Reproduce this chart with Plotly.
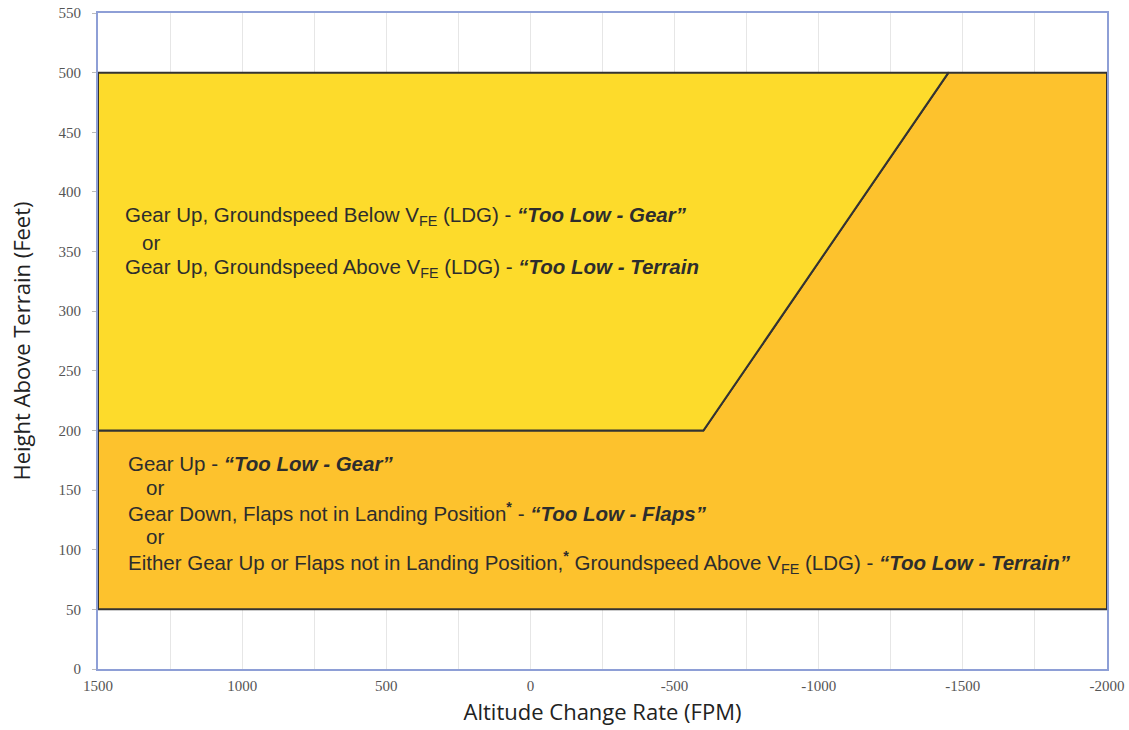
import plotly.graph_objects as go

# Envelope boundaries (Altitude change rate in FPM, height above terrain in feet)
upper_zone_rate = [1500, -600, -1450, 1500, 1500]
upper_zone_height = [200, 200, 500, 500, 200]

lower_zone_rate = [1500, -600, -1450, -2000, -2000, 1500, 1500]
lower_zone_height = [200, 200, 500, 500, 50, 50, 200]

x_ticks = [1500, 1000, 500, 0, -500, -1000, -1500, -2000]
x_tick_labels = ["1500", "1000", "500", "0", "-500", "-1000", "-1500", "-2000"]
y_ticks = [0, 50, 100, 150, 200, 250, 300, 350, 400, 450, 500, 550]

YELLOW = "#FDDB2B"
ORANGE = "#FDC22D"
EDGE = "#333333"
TXT = "#2d2d2d"

fig = go.Figure()
fig.add_trace(go.Scatter(x=lower_zone_rate, y=lower_zone_height, fill="toself",
                         fillcolor=ORANGE, mode="lines",
                         line=dict(color=EDGE, width=2), hoverinfo="skip",
                         showlegend=False))
fig.add_trace(go.Scatter(x=upper_zone_rate, y=upper_zone_height, fill="toself",
                         fillcolor=YELLOW, mode="lines",
                         line=dict(color=EDGE, width=2), hoverinfo="skip",
                         showlegend=False))

ann_font = dict(family="Liberation Sans, Arial, sans-serif", size=20.5, color=TXT)
STAR = "<sup><b>*</b></sup>"
lines = [
    (1413, 379.8, "Gear Up, Groundspeed Below V<sub>FE</sub> (LDG) - <b><i>“Too Low - Gear”</i></b>"),
    (1355, 358.0, "or"),
    (1413, 336.2, "Gear Up, Groundspeed Above V<sub>FE</sub> (LDG) - <b><i>“Too Low - Terrain</i></b>"),
    (1403, 171.9, "Gear Up - <b><i>“Too Low - Gear”</i></b>"),
    (1340, 151.8, "or"),
    (1403, 131.6, "Gear Down, Flaps not in Landing Position" + STAR + " - <b><i>“Too Low - Flaps”</i></b>"),
    (1340, 110.7, "or"),
    (1403, 88.9, "Either Gear Up or Flaps not in Landing Position," + STAR + " Groundspeed Above V<sub>FE</sub> (LDG) - <b><i>“Too Low - Terrain”</i></b>"),
]
for x, y, t in lines:
    fig.add_annotation(x=x, y=y, text=t, showarrow=False, xanchor="left",
                       yanchor="middle", font=ann_font, align="left")

axis_color = "#8E9FD6"
tick_font = dict(family="Liberation Serif, Times New Roman, serif", size=15, color="#555555")
title_font = dict(family="Open Sans, sans-serif", size=22, color="#222222")

fig.update_layout(
    width=1129, height=730,
    margin=dict(l=98, r=22, t=13, b=61, autoexpand=False),
    paper_bgcolor="white", plot_bgcolor="white",
    xaxis=dict(range=[1500, -2000], tickvals=x_ticks, ticktext=x_tick_labels,
               tickfont=tick_font, showgrid=True, gridcolor="#E6E6E6",
               minor=dict(dtick=250, showgrid=True, gridcolor="#E6E6E6", ticks=""),
               zeroline=False, showline=True, linecolor=axis_color, linewidth=2,
               mirror=True, ticks="", ticklabelstandoff=2, automargin=False,
               ticklabeloverflow="allow",
               title=dict(text="Altitude Change Rate (FPM)", standoff=12, font=title_font)),
    yaxis=dict(range=[0, 550], tickvals=y_ticks, tickfont=tick_font, showgrid=False,
               zeroline=False, showline=True, linecolor=axis_color, linewidth=2,
               mirror=True, ticks="outside", ticklen=4, tickcolor="#BBBBBB",
               ticklabelstandoff=8, automargin=False, ticklabeloverflow="allow",
               title=dict(text="Height Above Terrain (Feet)", standoff=22, font=title_font)),
)

fig.write_html("out.html", config={"displayModeBar": False},
               post_script="document.body.style.margin='0px';document.body.style.overflow='hidden';")
